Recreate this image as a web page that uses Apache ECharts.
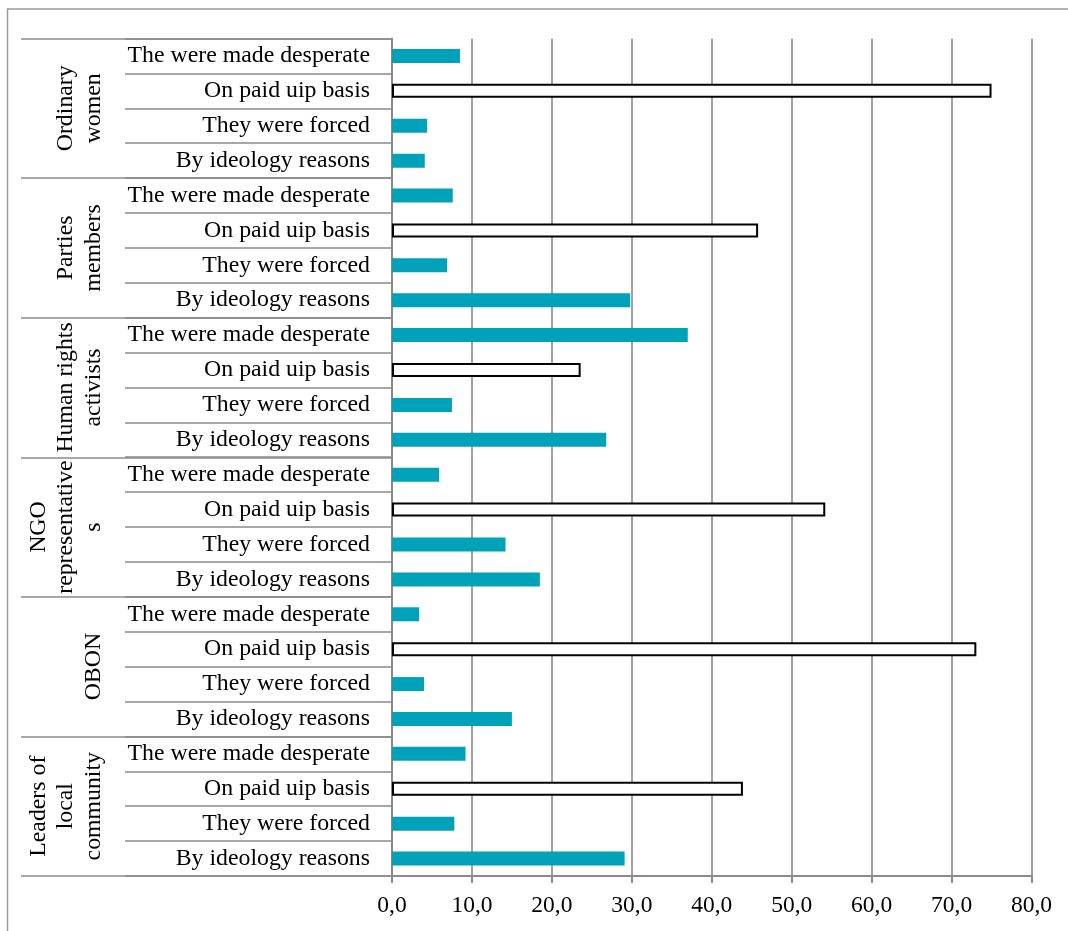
<!DOCTYPE html>
<html>
<head>
<meta charset="utf-8">
<script src="https://cdn.jsdelivr.net/npm/echarts@6/dist/echarts.min.js"></script>
<style>
  html, body { margin: 0; padding: 0; background: #fff; }
  #chart { width: 1068px; height: 931px; }
</style>
</head>
<body>
<div id="chart"></div>
<script>
// ---- data ----
const groups = ['Ordinary\nwomen', 'Parties\nmembers', 'Human rights\nactivists', 'NGO\nrepresentative\ns', 'OBON', 'Leaders of\nlocal\ncommunity'];
const reasons = ['The were made desperate', 'On paid uip basis', 'They were forced', 'By ideology reasons'];
const paidIndex = 1; // "On paid uip basis" is drawn as white outlined bar
const ordinaryWomen = [8.5, 75.0, 4.4, 4.1];
const partiesMembers = [7.6, 45.8, 6.9, 29.8];
const humanRightsActivists = [37.0, 23.6, 7.5, 26.8];
const ngoRepresentatives = [5.9, 54.2, 14.2, 18.5];
const obon = [3.4, 73.1, 4.0, 15.0];
const leadersLocalCommunity = [9.2, 43.9, 7.8, 29.1];
const xTicks = [0, 10, 20, 30, 40, 50, 60, 70, 80];

// ---- build ----
const groupValues = [ordinaryWomen, partiesMembers, humanRightsActivists, ngoRepresentatives, obon, leadersLocalCommunity];
const categories = [];
const tealData = [];
const whiteData = [];
groupValues.forEach(vals => {
  vals.forEach((v, i) => {
    categories.push(reasons[i]);
    if (i === paidIndex) { whiteData.push(v); tealData.push('-'); }
    else { tealData.push(v); whiteData.push('-'); }
  });
});

const FONT = "'Liberation Serif', 'Times New Roman', serif";
const GRID_COLOR = '#8a8a8a';

const chart = echarts.init(document.getElementById('chart'));
chart.setOption({
  animation: false,
  backgroundColor: '#ffffff',
  grid: { left: 392, right: 36.5, top: 38.5, bottom: 55, containLabel: false },
  graphic: [{
    type: 'rect',
    shape: { x: 7.5, y: 9, width: 1200, height: 1000 },
    style: { fill: 'none', stroke: '#9a9a9a', lineWidth: 1.5 },
    silent: true
  }],
  xAxis: {
    type: 'value',
    min: xTicks[0],
    max: xTicks[xTicks.length - 1],
    interval: xTicks[1] - xTicks[0],
    axisLine: { show: true, lineStyle: { color: GRID_COLOR, width: 2 } },
    axisTick: { show: true, length: 7, lineStyle: { color: GRID_COLOR, width: 2 } },
    splitLine: { show: true, lineStyle: { color: GRID_COLOR, width: 1.6 } },
    axisLabel: {
      margin: 18,
      fontFamily: FONT,
      fontSize: 23.5,
      color: '#000',
      formatter: v => v.toFixed(1).replace('.', ',')
    }
  },
  yAxis: [{
    type: 'category',
    data: categories,
    inverse: true,
    position: 'left',
    axisLine: { show: true, lineStyle: { color: GRID_COLOR, width: 2 } },
    axisTick: { show: true, length: 267, interval: 0, lineStyle: { color: GRID_COLOR, width: 1.6 } },
    axisLabel: { interval: 0, margin: 22, fontFamily: FONT, fontSize: 23.8, color: '#000' },
    splitLine: { show: false }
  }, {
    type: 'category',
    data: groups,
    inverse: true,
    position: 'left',
    axisLine: { show: false },
    axisTick: { show: true, length: 371, interval: 0, lineStyle: { color: GRID_COLOR, width: 1.6 } },
    axisLabel: { interval: 0, rotate: 90, margin: 285, fontFamily: FONT, fontSize: 23.8, lineHeight: 27.5, color: '#000' },
    splitLine: { show: false }
  }],
  series: [{
    name: 'other',
    type: 'bar',
    stack: 'all',
    yAxisIndex: 0,
    barWidth: 14,
    data: tealData,
    itemStyle: { color: '#00A2B9' }
  }, {
    name: 'paid',
    type: 'bar',
    stack: 'all',
    yAxisIndex: 0,
    barWidth: 14,
    data: whiteData,
    itemStyle: { color: '#ffffff', borderColor: '#000000', borderWidth: 2 }
  }]
});
</script>
</body>
</html>
